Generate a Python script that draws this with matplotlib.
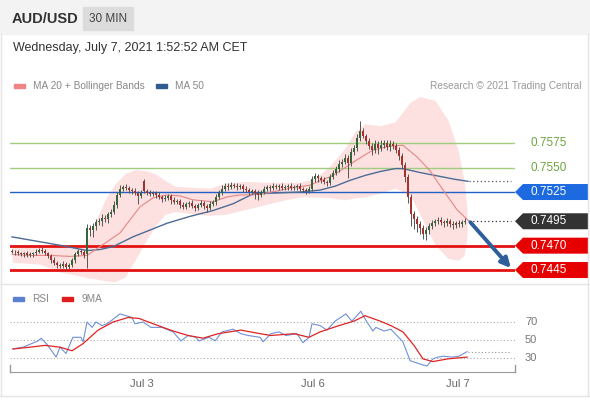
import matplotlib.pyplot as plt
import matplotlib.transforms as mtransforms
from matplotlib.patches import Rectangle, Polygon
from matplotlib.lines import Line2D

plt.rcParams['font.family'] = ['Liberation Sans', 'DejaVu Sans']

# ---- data (30 min candles, AUD/USD) ----
closes = [
    0.7464, 0.7463, 0.7462, 0.7461, 0.7462, 0.7460, 0.7461, 0.7462, 0.7464, 0.7466,
    0.7465, 0.7462, 0.7459, 0.7455, 0.7452, 0.7450, 0.7449, 0.7451, 0.7448, 0.7450,
    0.7455, 0.7461, 0.7465, 0.7463, 0.7460, 0.7488, 0.7486, 0.7490, 0.7494, 0.7495,
    0.7498, 0.7497, 0.7502, 0.7505, 0.7512, 0.7522, 0.7528, 0.7530, 0.7529, 0.7527,
    0.7526, 0.7524, 0.7521, 0.7524, 0.7526, 0.7524, 0.7523, 0.7524, 0.7522, 0.7520,
    0.7518, 0.7519, 0.7521, 0.7517, 0.7515, 0.7516, 0.7512, 0.7510, 0.7513, 0.7514,
    0.7511, 0.7509, 0.7512, 0.7514, 0.7511, 0.7509, 0.7513, 0.7515, 0.7520, 0.7524,
    0.7528, 0.7531, 0.7530, 0.7532, 0.7531, 0.7530, 0.7531, 0.7528, 0.7527, 0.7525,
    0.7526, 0.7524, 0.7522, 0.7525, 0.7528, 0.7530, 0.7529, 0.7531, 0.7530, 0.7531,
    0.7529, 0.7530, 0.7531, 0.7529, 0.7530, 0.7531, 0.7528, 0.7527, 0.7526, 0.7528,
    0.7538, 0.7541, 0.7539, 0.7537, 0.7535, 0.7534, 0.7540, 0.7545, 0.7549, 0.7554,
    0.7556, 0.7560, 0.7555, 0.7566, 0.7570, 0.7580, 0.7588, 0.7582, 0.7577, 0.7572,
    0.7568, 0.7574, 0.7570, 0.7573, 0.7575, 0.7571, 0.7574, 0.7572, 0.7568, 0.7562,
    0.7553, 0.7540, 0.7520, 0.7502, 0.7497, 0.7492, 0.7488, 0.7482, 0.7486, 0.7490,
    0.7493, 0.7495, 0.7496, 0.7494, 0.7493, 0.7495, 0.7492, 0.7491, 0.7493, 0.7492,
    0.7494, 0.7495,
]
first_open = 0.7465
gap_opens = {25: 0.7461, 44: 0.7536}   # candles that did not open at the previous close

# wick lengths in pips above / below the body
wick_up = [
    2, 2, 3, 2, 2, 3, 2, 2, 3, 2, 3, 2, 2, 2, 3, 2, 2, 3, 2, 2,
    2, 3, 2, 2, 3, 4, 3, 3, 3, 3, 4, 3, 3, 3, 4, 3, 4, 2, 3, 2,
    2, 3, 2, 3, 2, 2, 3, 2, 2, 3, 2, 3, 2, 2, 3, 2, 2, 3, 2, 2,
    3, 2, 2, 3, 2, 2, 3, 2, 3, 3, 4, 3, 3, 3, 2, 3, 2, 2, 3, 2,
    2, 2, 3, 2, 3, 2, 2, 3, 2, 2, 3, 2, 2, 3, 2, 2, 3, 2, 2, 3,
    3, 3, 2, 2, 3, 2, 3, 3, 3, 4, 3, 4, 3, 4, 3, 4, 10, 3, 3, 3,
    3, 4, 3, 5, 3, 3, 4, 3, 3, 3, 3, 3, 3, 3, 4, 3, 3, 3, 3, 3,
    3, 2, 3, 3, 2, 3, 2, 3, 2, 3, 2, 3,
]
wick_dn = [
    2, 3, 2, 2, 3, 2, 2, 3, 2, 2, 3, 2, 2, 3, 2, 3, 2, 2, 3, 2,
    2, 3, 2, 2, 3, 14, 6, 7, 4, 3, 5, 3, 4, 3, 3, 3, 2, 2, 2, 3,
    3, 2, 8, 2, 2, 2, 2, 2, 3, 2, 3, 2, 2, 4, 2, 2, 3, 2, 2, 3,
    2, 3, 2, 2, 3, 4, 2, 2, 3, 2, 2, 2, 3, 2, 2, 3, 2, 3, 2, 3,
    2, 6, 5, 2, 2, 2, 3, 2, 2, 3, 2, 2, 3, 2, 2, 3, 2, 2, 3, 2,
    2, 3, 4, 3, 2, 3, 2, 2, 3, 3, 3, 2, 16, 3, 3, 3, 3, 2, 3, 3,
    5, 3, 6, 3, 3, 3, 4, 3, 3, 4, 4, 5, 6, 12, 10, 8, 6, 5, 6, 4,
    3, 3, 3, 3, 4, 3, 3, 4, 3, 3, 3, 2,
]

# moving averages / bands (candle index, price)
ma20_x = [0, 6, 12.7, 19.3, 25, 29.3, 36, 42.7, 47, 51.7, 56, 60.3, 67, 71.7, 76, 80.3,
          85, 92.7, 99.3, 107, 115, 120.3, 126, 130.3, 135, 139.3, 143.7, 148.3, 152.7]
ma20_y = [0.7461, 0.7460, 0.7460, 0.7459, 0.7460, 0.7469, 0.7483, 0.7510, 0.7519, 0.7522,
          0.7521, 0.7517, 0.7515, 0.7520, 0.7522, 0.7522, 0.7524, 0.7529, 0.7532, 0.7542,
          0.7558, 0.7568, 0.7572, 0.7573, 0.7561, 0.7547, 0.7527, 0.7507, 0.7494]

ma50_x = [0, 9.3, 16.7, 25, 29.3, 33.7, 40.3, 46, 51.7, 59.3, 67, 73.7, 80.3, 87.7, 96,
          102.7, 107.7, 112.7, 117.7, 122.7, 127.7, 130.3, 136, 142.7, 147.7, 152]
ma50_y = [0.7479, 0.7474, 0.7470, 0.7465, 0.7466, 0.7469, 0.7479, 0.7486, 0.7493, 0.7500,
          0.7506, 0.7513, 0.7523, 0.7524, 0.7525, 0.7527, 0.7531, 0.7537, 0.7542, 0.7546,
          0.7549, 0.7549, 0.7545, 0.7541, 0.7538, 0.7536]

bb_x = [0, 9.3, 16, 22.7, 25.3, 27.7, 31, 34.3, 37.7, 41, 44.3, 47.7, 51, 54.3, 59.3,
        66, 71, 77.7, 84.3, 91, 96, 101, 106, 111, 114.3, 117.7, 122.7, 127.7, 132.7,
        136, 141, 145.3, 148.7, 150.7, 151.7]
bb_upper = [0.7471, 0.7471, 0.7469, 0.7468, 0.7476, 0.7494, 0.7517, 0.7533, 0.7544, 0.7548,
            0.7547, 0.7544, 0.7537, 0.7531, 0.7530, 0.7529, 0.7534, 0.7536, 0.7535, 0.7535,
            0.7535, 0.7539, 0.7552, 0.7570, 0.7587, 0.7595, 0.7593, 0.7597, 0.7617, 0.7623,
            0.7619, 0.7599, 0.7568, 0.7537, 0.7507]
bb_lower = [0.7453, 0.7451, 0.7443, 0.7439, 0.7437, 0.7436, 0.7434, 0.7433, 0.7438, 0.7455,
            0.7473, 0.7490, 0.7502, 0.7505, 0.7503, 0.7501, 0.7502, 0.7507, 0.7512, 0.7517,
            0.7520, 0.7520, 0.7519, 0.7517, 0.7519, 0.7520, 0.7524, 0.7529, 0.7522, 0.7502,
            0.7471, 0.7457, 0.7455, 0.7460, 0.7481]

# support / resistance levels
green_levels = [0.7575, 0.7550]
blue_level = 0.7525
red_levels = [0.7470, 0.7445]

# RSI panel
rsi_x = [0.3, 3.7, 8.7, 9.7, 11.7, 14.7, 16, 18, 20.3, 23, 23.7, 25, 26.7, 28, 30, 31.7,
         36, 40, 41, 43.7, 46.3, 50, 53.7, 56.3, 58.7, 61.3, 62.3, 65.7, 67.7, 70, 73.7,
         76.3, 78.7, 82.7, 83.7, 86.3, 89, 91.3, 95, 97, 99, 100, 102.7, 105, 107.7,
         111.3, 113.3, 116.3, 118.3, 120.3, 121.3, 124, 126.3, 127.7, 130.3, 132.7,
         136.3, 138.3, 140.3, 142, 144, 146.7, 149, 151.7]
rsi_vals = [40, 42, 49, 52, 45, 31, 42, 35, 53, 53, 48, 70, 64, 70, 66, 68, 79, 75, 68,
            70, 64, 64, 59, 49, 55, 53, 49, 53, 49, 59, 62, 57, 55, 53, 48, 57, 59, 55,
            57, 47, 53, 68, 66, 61, 71, 79, 71, 82, 70, 60, 64, 60, 62, 57, 48, 27, 23,
            21, 29, 31, 32, 31, 32, 37]
ma9_x = [0.3, 6, 11, 16, 20, 23.7, 28.7, 33.7, 38.7, 42.3, 48.7, 53.7, 58.7, 63.7, 68.7,
         76.3, 82.7, 86.3, 94, 99, 102.7, 109, 114, 117.7, 122.7, 126.3, 130.3, 134, 137,
         140.3, 145.3, 151.7]
ma9_vals = [40, 42, 44, 42, 38, 46, 61, 70, 75, 74, 66, 60, 55, 52, 57, 61, 57, 55, 57,
            53, 59, 66, 71, 77, 71, 66, 59, 44, 29, 26, 29, 31]
rsi_levels = [70, 50, 30]

date_ticks = [43.3, 100.3, 148.7]
date_labels = ['Jul 3', 'Jul 6', 'Jul 7']

# ---- figure ----
W, H = 590, 400
fig = plt.figure(figsize=(W / 100, H / 100), dpi=100)


def fx(px):
    return px / W


def fy(py):
    return 1 - py / H


# header
fig.add_artist(Rectangle((0, fy(34)), 1, 34 / H, transform=fig.transFigure,
                         color='#f3f3f3', zorder=0))
fig.add_artist(Rectangle((fx(83), fy(30)), 50 / W, 23 / H, transform=fig.transFigure,
                         color='#dcdcdc', zorder=1))
fig.text(fx(12), fy(19), 'AUD/USD', fontsize=10.5, weight='bold', color='#333333', va='center')
fig.text(fx(108), fy(19), '30 MIN', fontsize=8.5, color='#444444', ha='center', va='center')
fig.text(fx(13), fy(48), 'Wednesday, July 7, 2021 1:52:52 AM CET', fontsize=9,
         color='#333333', va='center')

# legends
fig.add_artist(Rectangle((fx(14), fy(88)), 11 / W, 4 / H, transform=fig.transFigure, color='#f08484'))
fig.text(fx(33), fy(86), 'MA 20 + Bollinger Bands', fontsize=7.3, color='#888888', va='center')
fig.add_artist(Rectangle((fx(156), fy(88)), 11 / W, 4 / H, transform=fig.transFigure, color='#2f5b8f'))
fig.text(fx(175), fy(86), 'MA 50', fontsize=7.3, color='#888888', va='center')
fig.text(fx(581), fy(86), 'Research \u00a9 2021 Trading Central', fontsize=7.3,
         color='#999999', va='center', ha='right')

fig.add_artist(Rectangle((fx(13), fy(301)), 11 / W, 4 / H, transform=fig.transFigure, color='#5b80d0'))
fig.text(fx(32), fy(299), 'RSI', fontsize=7.3, color='#888888', va='center')
fig.add_artist(Rectangle((fx(62), fy(301)), 11 / W, 4 / H, transform=fig.transFigure, color='#e01b1b'))
fig.text(fx(81), fy(299), '9MA', fontsize=7.3, color='#888888', va='center')

# frame and separators
for y in (284, 396):
    fig.add_artist(Line2D([0, 1], [fy(y), fy(y)], transform=fig.transFigure, color='#e4e4e4', lw=1))
for x in (1, 588):
    fig.add_artist(Line2D([fx(x), fx(x)], [fy(34), fy(396)], transform=fig.transFigure,
                          color='#e4e4e4', lw=1))

# ---- price panel ----
ax = fig.add_axes([fx(10), fy(283), 505 / W, (283 - 95) / H])
ax.set_xlim(-2 / 3, 167.67)
ax.set_ylim(0.74317, 0.76245)
ax.axis('off')

n = len(closes)
idx = list(range(n))
opens = [first_open] + closes[:-1]
for k, v in gap_opens.items():
    opens[k] = v
pip = 0.0001
highs = [max(o, c) + u * pip for o, c, u in zip(opens, closes, wick_up)]
lows = [min(o, c) - d * pip for o, c, d in zip(opens, closes, wick_dn)]

ax.fill_between(bb_x, bb_lower, bb_upper, color='#fde1e1', lw=0, zorder=1)

for lv in green_levels:
    ax.axhline(lv, color='#9fcc7f', lw=1.0, zorder=2, snap=True)
ax.axhline(blue_level, color='#2160c4', lw=1.0, zorder=2)
for lv in red_levels:
    ax.axhline(lv, color='#e31212', lw=2.0, zorder=2)

ax.plot(ma50_x, ma50_y, color='#4d6c94', lw=1.0, zorder=3)
ax.plot(ma20_x, ma20_y, color='#e58585', lw=0.8, zorder=3)

cols = ['#33663a' if c >= o else '#a8302c' for o, c in zip(opens, closes)]
ax.vlines(idx, lows, highs, color='#555555', lw=0.7, zorder=4)
bottoms = [min(o, c) for o, c in zip(opens, closes)]
heights = [max(abs(c - o), 0.00008) for o, c in zip(opens, closes)]
ax.bar(idx, heights, bottom=bottoms, width=0.85, color=cols, lw=0, zorder=5)

# dotted extensions of last MA50 and last price
ax.plot([n + 0.3, 166.3], [ma50_y[-1]] * 2, ls=(0, (1, 2)), color='#555555', lw=0.9)
ax.plot([n + 0.3, 166.3], [closes[-1]] * 2, ls=(0, (1, 2)), color='#333333', lw=0.9)

# forecast arrow
ax.annotate('', xy=(166.3, red_levels[-1] + 0.0002), xytext=(n + 0.8, closes[-1] - 0.0001),
            arrowprops=dict(arrowstyle='-|>', color='#2f5f9a', lw=2.8, mutation_scale=14,
                            shrinkA=0, shrinkB=0), zorder=6)

# right-hand price labels
blend = mtransforms.blended_transform_factory(fig.transFigure, ax.transData)
half = 8 / 9750


def tag(level, color):
    pts = [(fx(515), level), (fx(523), level + half), (fx(588), level + half),
           (fx(588), level - half), (fx(523), level - half)]
    ax.add_patch(Polygon(pts, closed=True, transform=blend, color=color, clip_on=False, lw=0))
    ax.text(fx(549), level, f'{level:.4f}', transform=blend, ha='center', va='center',
            color='white', fontsize=8.5, clip_on=False)


for lv in green_levels:
    ax.text(fx(549), lv, f'{lv:.4f}', transform=blend, ha='center', va='center',
            color='#6ea43e', fontsize=8.5, clip_on=False)
tag(blue_level, '#1d6ae0')
tag(closes[-1], '#333333')
for lv in red_levels:
    tag(lv, '#e60000')

# ---- RSI panel ----
rax = fig.add_axes([fx(10), fy(372), 505 / W, (372 - 305) / H])
rax.set_xlim(-2 / 3, 167.67)
rax.set_ylim(14.4, 88.9)
for s in ('top', 'left', 'right'):
    rax.spines[s].set_visible(False)
rax.spines['bottom'].set_color('#9a9a9a')
rax.set_yticks([])
rax.set_xticks(date_ticks, date_labels)
rax.tick_params(axis='x', length=0, pad=5, labelsize=8, labelcolor='#666666')
for xe in (0, 1):
    rax.plot([xe, xe], [0, 0.1], transform=rax.transAxes, color='#9a9a9a', lw=1, clip_on=False)

rblend = mtransforms.blended_transform_factory(fig.transFigure, rax.transData)
for lv in rsi_levels:
    rax.axhline(lv, ls=(0, (1, 2)), color='#aaaaaa', lw=0.8)
    rax.text(fx(525), lv, str(lv), transform=rblend, va='center', fontsize=8,
             color='#777777', clip_on=False)

rax.plot(rsi_x, rsi_vals, color='#6f90d8', lw=0.8)
rax.plot(ma9_x, ma9_vals, color='#e02323', lw=0.9)
rax.plot([rsi_x[-1] + 0.3, 166.3], [rsi_vals[-1]] * 2, ls=(0, (1, 2)), color='#999999', lw=0.8)

fig.savefig('out.png', dpi=100)
